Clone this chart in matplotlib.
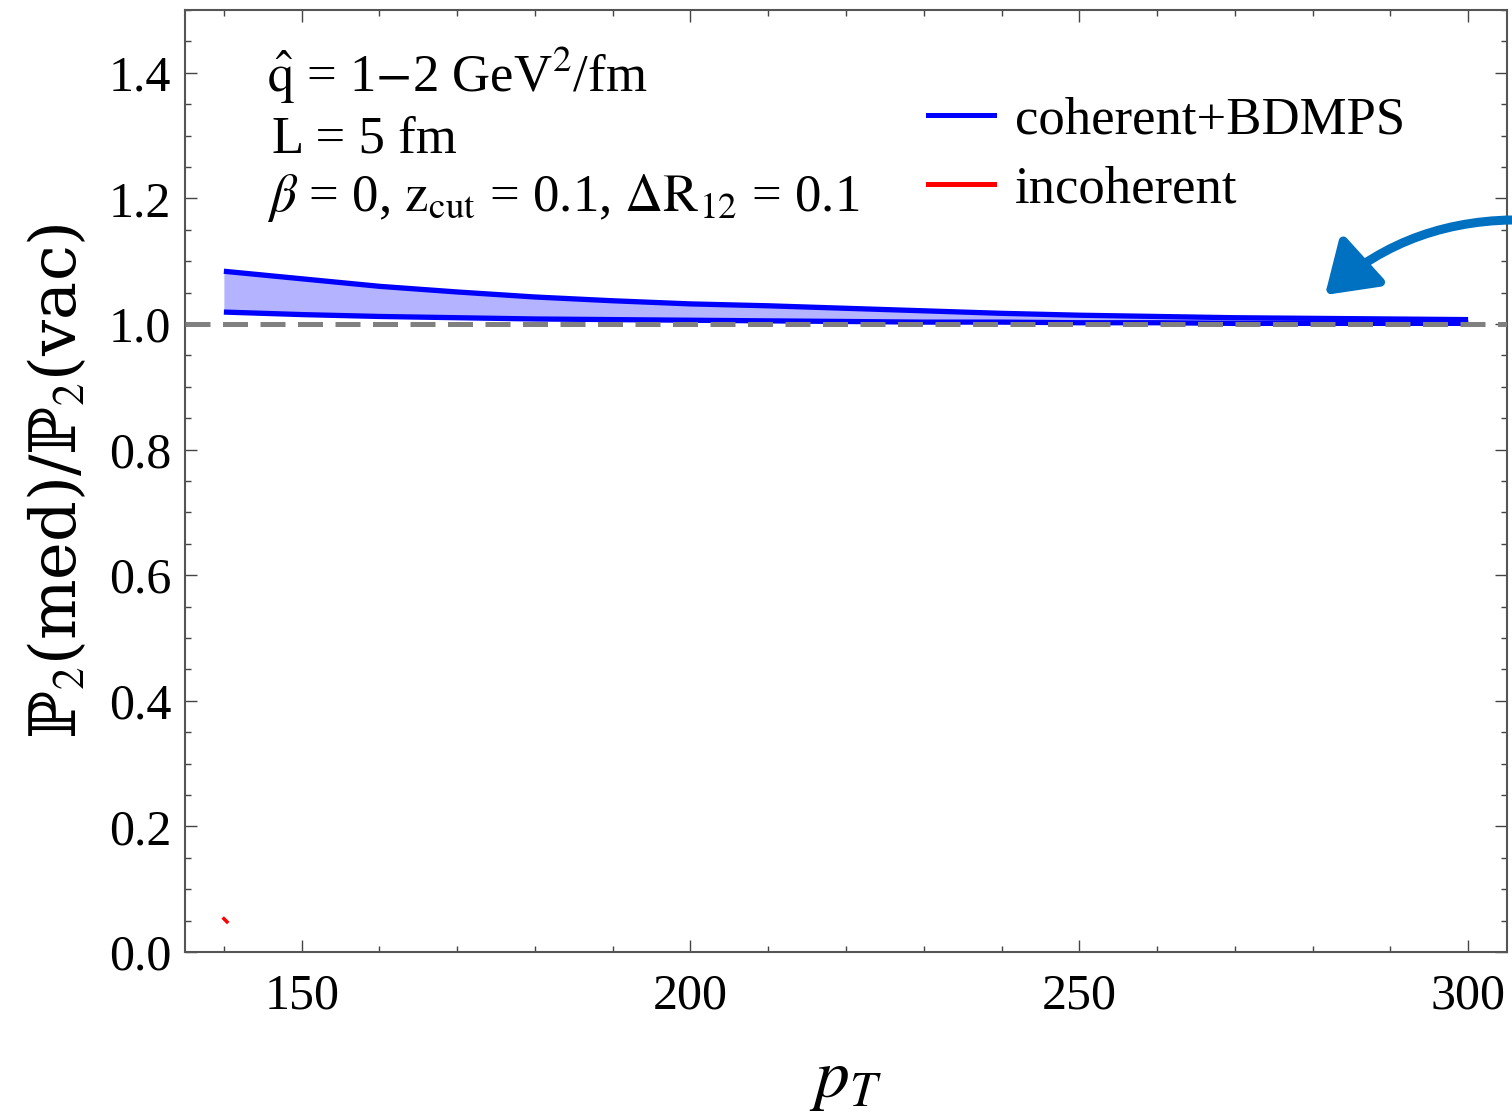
import matplotlib
matplotlib.use("Agg")
import matplotlib.pyplot as plt
from matplotlib.patches import FancyArrowPatch
from matplotlib.ticker import MultipleLocator

plt.rcParams['font.family'] = ['Liberation Serif', 'DejaVu Serif']
plt.rcParams['mathtext.fontset'] = 'stix'

# data
pt = [140, 150, 160, 170, 180, 190, 200, 210, 220, 230, 240, 250, 260, 270, 280, 290, 300]
coh_upper = [1.084, 1.072, 1.060, 1.051, 1.043, 1.037, 1.032, 1.029, 1.025, 1.021, 1.017,
             1.014, 1.012, 1.010, 1.009, 1.008, 1.007]
coh_lower = [1.019, 1.015, 1.012, 1.010, 1.008, 1.007, 1.006, 1.005, 1.004, 1.003, 1.003,
             1.002, 1.002, 1.001, 1.001, 1.001, 1.001]
incoh_pt = [140.0, 140.4]
incoh_val = [0.053, 0.048]
ref_level = 1.0

fig = plt.figure(figsize=(15.12, 11.12), dpi=100)
ax = fig.add_axes([185/1512, 1-952/1112, (1507-185)/1512, (952-10)/1112])

ax.fill_between(pt, coh_lower, coh_upper, color=(179/255, 179/255, 1.0), lw=0, zorder=1)
ax.plot(pt, coh_upper, color='#0000ff', lw=3.8, zorder=2, solid_capstyle='butt')
ax.plot(pt, coh_lower, color='#0000ff', lw=3.8, zorder=2, solid_capstyle='butt')
ax.plot(incoh_pt, incoh_val, color='#ff0000', lw=2.5, zorder=2)
ax.axhline(ref_level, color='#808080', lw=3.6, ls=(0, (5, 2.5)), zorder=3)

ax.set_xlim(135, 305)
ax.set_ylim(0, 1.5)
ax.xaxis.set_major_locator(MultipleLocator(50))
ax.xaxis.set_minor_locator(MultipleLocator(10))
ax.yaxis.set_minor_locator(MultipleLocator(0.05))
ax.set_yticks([0.0, 0.2, 0.4, 0.6, 0.8, 1.0, 1.2, 1.4])
ax.set_yticklabels(['0.0', '0.2', '0.4', '0.6', '0.8', '1.0', '1.2', '1.4'])

ax.tick_params(which='both', direction='in', top=True, right=True, width=1.0, color='#444444',
               labelsize=36)
ax.tick_params(which='major', length=8.6)
ax.tick_params(axis='y', which='major', pad=10)
ax.tick_params(axis='x', which='major', pad=15)
ax.tick_params(which='minor', length=4.3)
for s in ax.spines.values():
    s.set_color('#555555')
    s.set_linewidth(1.5)

ax.set_xlabel(r'$p_T$', fontsize=50, labelpad=22)
ax.set_ylabel('ℙ$_2$(med)/ℙ$_2$(vac)', fontsize=46, labelpad=14,
              family=['DejaVu Serif', 'DejaVu Sans'])

# annotation text
ax.text(0.062, 0.93, r'$\hat{\mathrm{q}}$ = 1$-$2 GeV$^2$/fm', transform=ax.transAxes,
        fontsize=38, va='center', ha='left')
ax.text(0.066, 0.863, 'L = 5 fm', transform=ax.transAxes, fontsize=38, va='center', ha='left')
ax.text(0.062, 0.800, r'$\beta$ = 0, $\mathrm{z_{cut}}$ = 0.1, $\Delta\mathrm{R}_{12}$ = 0.1',
        transform=ax.transAxes, fontsize=38, va='center', ha='left')

# legend
leg = ax.legend(handles=[plt.Line2D([], [], color='#0000ff', lw=3.6),
                         plt.Line2D([], [], color='#ff0000', lw=3.6)],
                labels=['coherent+BDMPS', 'incoherent'],
                loc='upper left', bbox_to_anchor=(0.562, 0.908), frameon=False,
                fontsize=38, handlelength=1.25, handletextpad=0.4, labelspacing=0.4,
                borderpad=0, borderaxespad=0)

# arrow
arr = FancyArrowPatch((1.01, 1-220/1112), (1325/1512, 1-295/1112), transform=fig.transFigure,
                      connectionstyle='arc3,rad=0.2', arrowstyle='-|>,head_length=1.5,head_width=1.0',
                      mutation_scale=20, lw=6.5, color='#0070c0', clip_on=False,
                      shrinkA=0, shrinkB=0)
fig.patches.append(arr)

fig.savefig('out.png', dpi=100)
